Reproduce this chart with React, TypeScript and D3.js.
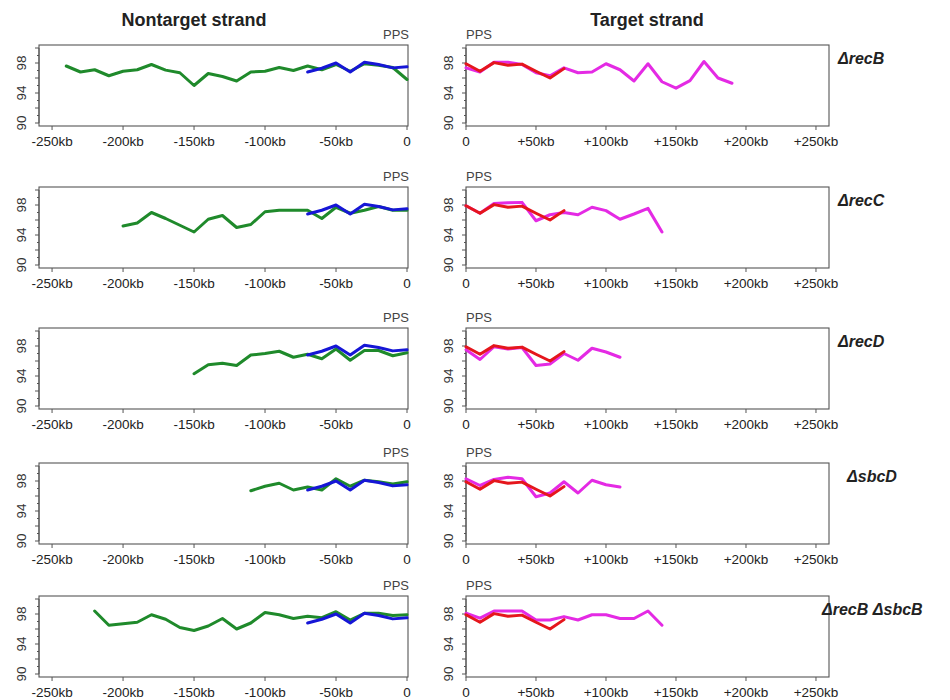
import React from "react";
import * as d3 from "d3";

// ---------- data ----------
const rowLabels = ["ΔrecB", "ΔrecC", "ΔrecD", "ΔsbcD", "ΔrecB ΔsbcB"];
const leftTicks = [-250, -200, -150, -100, -50, 0];
const leftTickLabels = ["-250kb", "-200kb", "-150kb", "-100kb", "-50kb", "0"];
const rightTicks = [0, 50, 100, 150, 200, 250];
const rightTickLabels = ["0", "+50kb", "+100kb", "+150kb", "+200kb", "+250kb"];
const yTicks = [90, 94, 98];

// blue reference (nontarget), starts at -70kb, 10kb steps
const blueStart = -70;
const blueVals = [96.8, 97.3, 98.0, 96.8, 98.1, 97.8, 97.35, 97.5];
// red reference (target), starts at 0kb
const redStart = 0;
const redVals = [97.9, 96.9, 98.05, 97.7, 97.85, 96.9, 96.0, 97.25];

// green (nontarget) per mutant
const greenStarts = [-240, -200, -150, -110, -220];
const greenRecB = [97.6, 96.8, 97.1, 96.3, 96.9, 97.1, 97.8, 97.05, 96.7, 95.0, 96.6, 96.2, 95.6, 96.8, 96.9, 97.4, 97.0, 97.6, 97.1, 97.8, 96.9, 97.9, 97.7, 97.4, 95.8];
const greenRecC = [95.2, 95.6, 97.0, 96.2, 95.3, 94.4, 96.1, 96.6, 95.0, 95.4, 97.1, 97.3, 97.3, 97.3, 96.2, 97.7, 96.9, 97.3, 97.8, 97.3, 97.3];
const greenRecD = [94.3, 95.5, 95.7, 95.4, 96.8, 97.0, 97.3, 96.5, 96.9, 96.3, 97.6, 96.1, 97.4, 97.4, 96.7, 97.1];
const greenSbcD = [96.7, 97.3, 97.7, 96.8, 97.2, 96.8, 98.3, 97.3, 98.1, 97.9, 97.6, 97.9];
const greenRecBSbcB = [98.4, 96.5, 96.7, 96.9, 97.9, 97.3, 96.2, 95.8, 96.4, 97.4, 96.0, 96.8, 98.2, 97.9, 97.4, 97.7, 97.5, 98.3, 97.2, 98.1, 98.1, 97.8, 97.9];

// magenta (target) per mutant, all start at 0kb
const magRecB = [97.35, 96.8, 98.1, 98.1, 97.8, 96.7, 96.3, 97.35, 96.7, 96.8, 97.9, 97.1, 95.6, 97.9, 95.5, 94.65, 95.65, 98.2, 96.0, 95.3];
const magRecC = [97.9, 96.9, 98.2, 98.3, 98.35, 95.9, 96.7, 97.0, 96.7, 97.7, 97.25, 96.1, 96.8, 97.55, 94.4];
const magRecD = [97.5, 96.2, 97.9, 97.6, 97.8, 95.4, 95.6, 97.0, 96.1, 97.7, 97.2, 96.5];
const magSbcD = [98.3, 97.4, 98.2, 98.5, 98.3, 95.9, 96.4, 97.9, 96.4, 98.1, 97.5, 97.2];
const magRecBSbcB = [98.1, 97.45, 98.4, 98.4, 98.4, 97.2, 97.2, 97.65, 97.2, 97.9, 97.9, 97.4, 97.4, 98.4, 96.5];

const greenSeries = [greenRecB, greenRecC, greenRecD, greenSbcD, greenRecBSbcB];
const magSeries = [magRecB, magRecC, magRecD, magSbcD, magRecBSbcB];

// ---------- layout ----------
const W = 950;
const H = 700;
const rowTops = [45, 187, 328, 463, 596];
const boxH = 81;
const leftX0 = 39, leftX1 = 408;
const rightX0 = 466, rightX1 = 829;
const labelX = [838, 838, 838, 847, 822];

const FONT = "'Liberation Sans', Arial, Helvetica, sans-serif";
const GREEN = "#1f8a2b";
const BLUE = "#1616d6";
const RED = "#e5161c";
const MAGENTA = "#e42ae4";

type Pt = [number, number];
const toPts = (start: number, vals: number[]): Pt[] => vals.map((v, i) => [start + i * 10, v]);

function Panel({ top, side, series }: { top: number; side: "L" | "R"; series: { pts: Pt[]; color: string }[] }) {
  const x0 = side === "L" ? leftX0 : rightX0;
  const x1 = side === "L" ? leftX1 : rightX1;
  const x = side === "L"
    ? d3.scaleLinear().domain([-259.2, 0.7]).range([x0, x1])
    : d3.scaleLinear().domain([0, 259.3]).range([x0, x1]);
  const y = d3.scaleLinear().domain([89.6, 100.4]).range([top + boxH, top]);
  const line = d3.line<Pt>().x((d) => x(d[0])).y((d) => y(d[1]));
  const ticks = side === "L" ? leftTicks : rightTicks;
  const tickLabels = side === "L" ? leftTickLabels : rightTickLabels;
  const minor = d3.range(90, 100.01, 1);
  return (
    <g>
      <rect x={x0} y={top} width={x1 - x0} height={boxH} fill="#fff" stroke="#555" strokeWidth={1.1} />
      {minor.map((v) => (
        <line key={"m" + v} x1={x0} x2={x0 - (v % 2 === 0 ? 4 : 2)} y1={y(v)} y2={y(v)} stroke="#555" strokeWidth={1} />
      ))}
      <line x1={x0} x2={x0} y1={y(100)} y2={y(90)} stroke="#555" />
      {yTicks.map((v) => (
        <text key={"y" + v} transform={`translate(${x0 - 13},${y(v)}) rotate(-90)`} textAnchor="middle" fontSize={13.5} fill="#333" fontFamily={FONT}>
          {v}
        </text>
      ))}
      {ticks.map((t, i) => (
        <g key={"x" + t}>
          <line x1={x(t)} x2={x(t)} y1={top + boxH} y2={top + boxH + 4} stroke="#555" />
          <text x={x(t)} y={top + boxH + 20} textAnchor="middle" fontSize={13.5} fill="#222" fontFamily={FONT}>
            {tickLabels[i]}
          </text>
        </g>
      ))}
      <text x={side === "L" ? x1 + 1 : x0} y={top - 6} textAnchor={side === "L" ? "end" : "start"} fontSize={13} fill="#444" fontFamily={FONT}>
        PPS
      </text>
      {series.map((s, i) => (
        <path key={i} d={line(s.pts) || ""} fill="none" stroke={s.color} strokeWidth={3} strokeLinejoin="round" strokeLinecap="round" />
      ))}
    </g>
  );
}

export default function App() {
  const bluePts = toPts(blueStart, blueVals);
  const redPts = toPts(redStart, redVals);
  return (
    <svg width={W} height={H} style={{ position: "absolute", left: 0, top: 0, background: "#fff" }}>
      <rect width={W} height={H} fill="#fff" />
      <text x={194} y={26} textAnchor="middle" fontSize={18} fontWeight="bold" fill="#222" fontFamily={FONT}>
        Nontarget strand
      </text>
      <text x={647} y={26} textAnchor="middle" fontSize={18} fontWeight="bold" fill="#222" fontFamily={FONT}>
        Target strand
      </text>
      {rowTops.map((top, r) => (
        <g key={r}>
          <Panel
            top={top}
            side="L"
            series={[
              { pts: toPts(greenStarts[r], greenSeries[r]), color: GREEN },
              { pts: bluePts, color: BLUE },
            ]}
          />
          <Panel
            top={top}
            side="R"
            series={[
              { pts: toPts(0, magSeries[r]), color: MAGENTA },
              { pts: redPts, color: RED },
            ]}
          />
          <text x={labelX[r]} y={top + 19} fontSize={16} fontWeight="bold" fontStyle="italic" fill="#222" fontFamily={FONT}>
            {rowLabels[r]}
          </text>
        </g>
      ))}
    </svg>
  );
}
